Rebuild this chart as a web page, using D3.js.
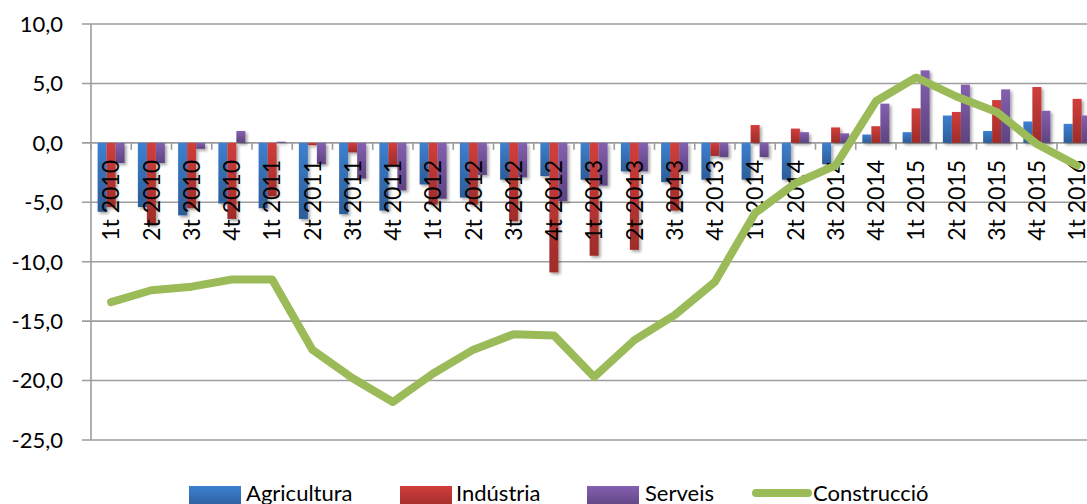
<!DOCTYPE html>
<html>
<head>
<meta charset="utf-8">
<script src="https://cdn.jsdelivr.net/npm/d3@7"></script>
<style>
  html, body { margin: 0; padding: 0; background: #fff; }
  svg { display: block; }
  text { font-family: Lato, "Open Sans", sans-serif; fill: #000; }
</style>
</head>
<body>
<div id="chart"></div>
<script>
const categories = ["1t 2010","2t 2010","3t 2010","4t 2010","1t 2011","2t 2011","3t 2011","4t 2011",
  "1t 2012","2t 2012","3t 2012","4t 2012","1t 2013","2t 2013","3t 2013","4t 2013",
  "1t 2014","2t 2014","3t 2014","4t 2014","1t 2015","2t 2015","3t 2015","4t 2015","1t 2016"];
const agricultura = [-5.8,-5.4,-6.1,-5.1,-5.5,-6.4,-6.0,-5.7,-3.5,-4.6,-3.1,-2.8,-3.1,-2.4,-3.3,-3.1,
  -3.1,-3.1,-1.8,0.7,0.9,2.3,1.0,1.8,1.6];
const industria = [-5.4,-6.9,-5.5,-6.4,-4.5,-0.2,-0.8,-1.9,-5.2,-5.2,-6.6,-10.9,-9.5,-9.0,-5.7,-1.1,
  1.5,1.2,1.3,1.4,2.9,2.6,3.6,4.7,3.7];
const serveis = [-1.7,-1.7,-0.5,1.0,0.1,-1.8,-3.0,-4.0,-4.7,-2.7,-2.9,-4.9,-3.6,-2.4,-2.4,-1.2,
  -1.2,0.9,0.8,3.3,6.1,4.9,4.5,2.7,2.3];
const construccio = [-13.4,-12.4,-12.1,-11.5,-11.5,-17.4,-19.8,-21.8,-19.4,-17.4,-16.1,-16.2,-19.7,-16.6,-14.5,-11.7,
  -5.9,-3.4,-1.9,3.5,5.5,3.9,2.6,-0.1,-1.9];
const yTicks = [10,5,0,-5,-10,-15,-20,-25];
const barSeries = ["Agricultura","Indústria","Serveis"];
const lineSeries = "Construcció";

const W = 1087, H = 504;
const svg = d3.select("#chart").append("svg").attr("width", W).attr("height", H);
const defs = svg.append("defs");

const colors = {
  "Agricultura": ["#3d80d0", "#2c5c98"],
  "Indústria": ["#d13e3b", "#9e2c2a"],
  "Serveis": ["#8460b0", "#5e437f"]
};
barSeries.forEach((s, i) => {
  const g = defs.append("linearGradient").attr("id", "g" + i)
    .attr("x1", 0).attr("y1", 0).attr("x2", 0).attr("y2", 1);
  g.append("stop").attr("offset", "0%").attr("stop-color", colors[s][0]);
  g.append("stop").attr("offset", "100%").attr("stop-color", colors[s][1]);
});
const f = defs.append("filter").attr("id", "shadow").attr("x", "-50%").attr("y", "-10%").attr("width", "200%").attr("height", "130%");
f.append("feDropShadow").attr("dx", 2).attr("dy", 2).attr("stdDeviation", 1.8)
  .attr("flood-color", "#000").attr("flood-opacity", 0.35);

const x0 = 91, band = 40.25;
const x = d3.scaleBand().domain(categories).range([x0, x0 + band * categories.length]).paddingInner(0).paddingOuter(0);
const y = d3.scaleLinear().domain([-25, 10]).range([440, 24]);
const xs = d3.scaleBand().domain(barSeries).range([-13.5, 13.5]);

// gridlines
svg.append("g").selectAll("line").data(yTicks).join("line")
  .attr("x1", 82).attr("x2", W).attr("y1", d => y(d)).attr("y2", d => y(d))
  .attr("stroke", "#9d9d9d").attr("stroke-width", 1.6);
// y axis line
svg.append("line").attr("x1", x0).attr("x2", x0).attr("y1", y(10)).attr("y2", y(-25))
  .attr("stroke", "#9d9d9d").attr("stroke-width", 1.6);
// y tick labels
svg.append("g").selectAll("text").data(yTicks).join("text")
  .attr("x", 63).attr("y", d => y(d)).attr("dy", "0.36em").attr("text-anchor", "end")
  .style("font-size", "22px")
  .text(d => d3.format(".1f")(d).replace(".", ",").replace("−", "-"));
// category ticks on zero line
const bounds = d3.range(categories.length + 1).map(i => x0 + i * band);
svg.append("g").selectAll("line").data(bounds).join("line")
  .attr("x1", d => d).attr("x2", d => d).attr("y1", y(0)).attr("y2", y(0) + 7)
  .attr("stroke", "#9d9d9d").attr("stroke-width", 1.6);

// bars
const seriesData = [agricultura, industria, serveis];
const barsG = svg.append("g").attr("filter", "url(#shadow)");
seriesData.forEach((vals, si) => {
  barsG.append("g").selectAll("rect").data(vals).join("rect")
    .attr("x", (d, i) => x(categories[i]) + x.bandwidth() / 2 + xs(barSeries[si]))
    .attr("width", xs.bandwidth())
    .attr("y", d => y(Math.max(0, d)))
    .attr("height", d => Math.abs(y(d) - y(0)))
    .attr("fill", "url(#g" + si + ")");
});

// category labels
svg.append("g").selectAll("text").data(categories).join("text")
  .attr("transform", d => `translate(${x(d) + x.bandwidth() / 2},160) rotate(-90)`)
  .attr("text-anchor", "end").attr("dy", "0.36em")
  .style("font-size", "23px")
  .text(d => d);

// line
const line = d3.line().x((d, i) => x(categories[i]) + x.bandwidth() / 2).y(d => y(d));
svg.append("path").datum(construccio).attr("d", line)
  .attr("fill", "none").attr("stroke", "#9bbb59").attr("stroke-width", 8)
  .attr("stroke-linejoin", "round").attr("stroke-linecap", "round");

// legend
const legend = svg.append("g");
const legendItems = [
  {name: "Agricultura", sx: 189, tx: 246, type: 0},
  {name: "Indústria", sx: 400, tx: 456, type: 1},
  {name: "Serveis", sx: 587, tx: 645, type: 2},
  {name: lineSeries, sx: 752, tx: 813, type: 3}
];
legendItems.forEach(it => {
  if (it.type < 3) {
    legend.append("rect").attr("x", it.sx).attr("y", 486).attr("width", 52).attr("height", 22)
      .attr("fill", "url(#g" + it.type + ")");
  } else {
    legend.append("line").attr("x1", it.sx + 4).attr("x2", it.sx + 56).attr("y1", 493).attr("y2", 493)
      .attr("stroke", "#9bbb59").attr("stroke-width", 8).attr("stroke-linecap", "round");
  }
  legend.append("text").attr("x", it.tx).attr("y", 501).style("font-size", "22px").text(it.name);
});
</script>
</body>
</html>
